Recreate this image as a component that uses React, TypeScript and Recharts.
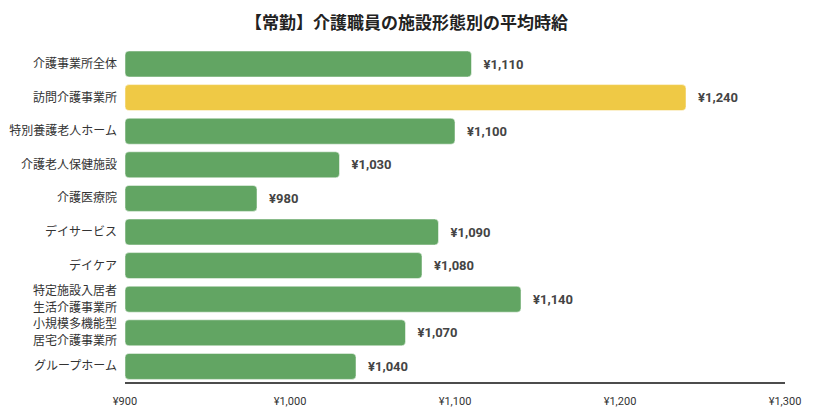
import { Bar, BarChart, Cell, LabelList, XAxis, YAxis } from "recharts"

const categories = [
  "介護事業所全体",
  "訪問介護事業所",
  "特別養護老人ホーム",
  "介護老人保健施設",
  "介護医療院",
  "デイサービス",
  "デイケア",
  "特定施設入居者\n生活介護事業所",
  "小規模多機能型\n居宅介護事業所",
  "グループホーム",
]
const wages = [1110, 1240, 1100, 1030, 980, 1090, 1080, 1140, 1070, 1040]
const highlighted = ["訪問介護事業所"]
const xTicks = [900, 1000, 1100, 1200, 1300]

const data = categories.map((name, i) => ({ name, wage: wages[i] }))

const font = "Roboto, 'Noto Sans CJK JP', sans-serif"
const yen = (v: number) => `¥${v.toLocaleString("en-US")}`

function CategoryTick({ x, y, payload }: any) {
  const lines = String(payload.value).split("\n")
  const lineHeight = 17
  const start = -((lines.length - 1) * lineHeight) / 2
  return (
    <text x={x} y={y} textAnchor="end" fill="#333333" fontSize={12} fontFamily={font}>
      {lines.map((line, i) => (
        <tspan key={i} x={x} y={y + start + i * lineHeight} dy="0.35em">
          {line}
        </tspan>
      ))}
    </text>
  )
}

export default function App() {
  return (
    <div style={{ position: "absolute", left: 0, top: 0, width: 813, height: 410, background: "#fff" }}>
      <div
        style={{
          position: "absolute",
          top: 9,
          left: 0,
          width: 813,
          textAlign: "center",
          fontFamily: font,
          fontWeight: 700,
          fontSize: 17,
          color: "#222222",
        }}
      >
        【常勤】介護職員の施設形態別の平均時給
      </div>
      <BarChart
        width={813}
        height={410}
        data={data}
        layout="vertical"
        margin={{ top: 47, right: 28, bottom: 0, left: 0 }}
      >
        <XAxis
          type="number"
          domain={[900, 1300]}
          ticks={xTicks}
          tickFormatter={yen}
          tickLine={false}
          axisLine={{ stroke: "#111111", strokeWidth: 1.5 }}
          height={27}
          tick={{ fill: "#333333", fontSize: 11, fontFamily: font, dy: 6 }}
          interval={0}
          allowDataOverflow
        />
        <YAxis
          type="category"
          dataKey="name"
          width={125}
          tickLine={false}
          axisLine={false}
          tick={<CategoryTick />}
          interval={0}
        />
        <Bar dataKey="wage" barSize={26} radius={4} isAnimationActive={false}>
          {data.map((d) => (
            <Cell
              key={d.name}
              fill={highlighted.includes(d.name) ? "#efc945" : "#62a563"}
              stroke="#ffffff"
              strokeOpacity={0.5}
            />
          ))}
          <LabelList
            dataKey="wage"
            position="right"
            offset={12}
            formatter={(v: any) => yen(Number(v))}
            fill="#444444"
            fontSize={13}
            fontWeight={700}
            fontFamily={font}
          />
        </Bar>
      </BarChart>
    </div>
  )
}
